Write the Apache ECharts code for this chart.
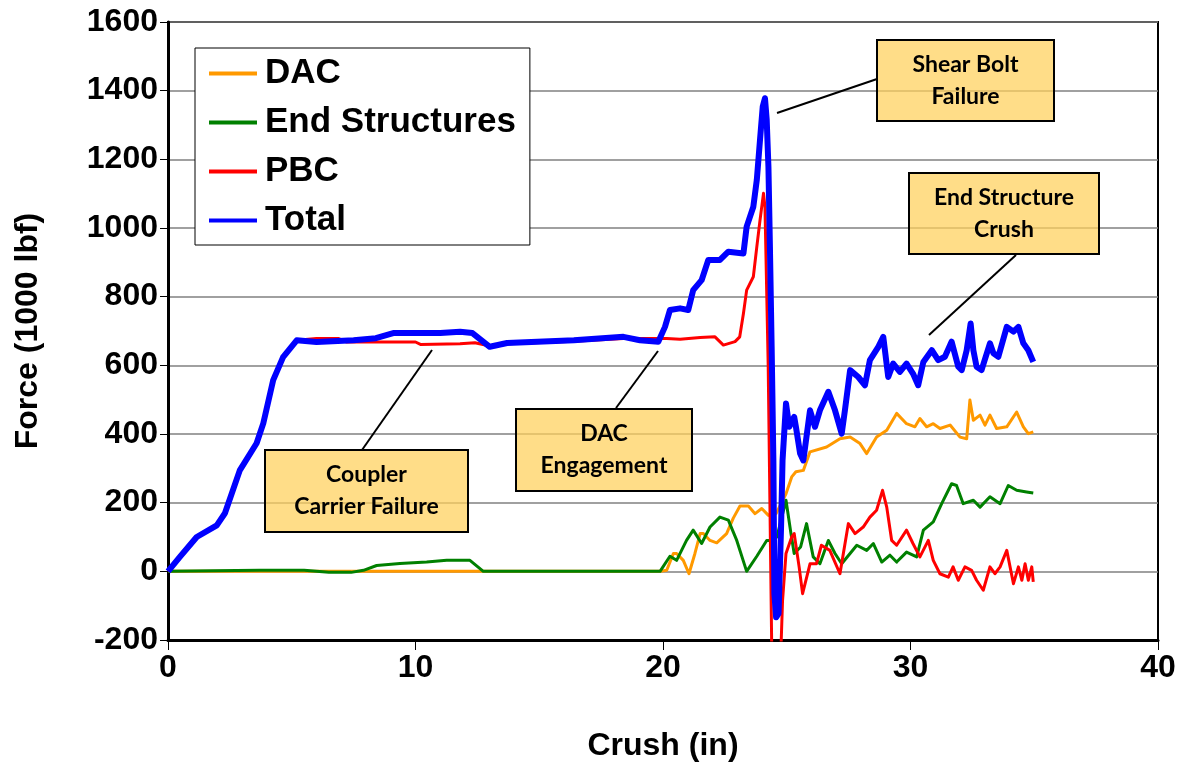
<!DOCTYPE html>
<html>
<head>
<meta charset="utf-8">
<script src="https://cdn.jsdelivr.net/npm/echarts@6/dist/echarts.min.js"></script>
<style>
  html, body { margin: 0; padding: 0; background: #fff; }
  #chart { width: 1183px; height: 767px; }
</style>
</head>
<body>
<div id="chart"></div>
<script>
// crush (in), force (1000 lbf)
const dacData = [
  [0, 0], [19.9, 0], [20.15, 3], [20.42, 52], [20.55, 52], [20.82, 32], [21.05, -7], [21.29, 52],
  [21.5, 110], [21.63, 110], [21.9, 90], [22.17, 83], [22.57, 110], [22.84, 155], [23.11, 190],
  [23.45, 190], [23.72, 168], [23.99, 183], [24.26, 163], [24.57, 168], [24.97, 226], [25.2, 275],
  [25.37, 290], [25.67, 294], [25.94, 348], [26.61, 362], [27.15, 386], [27.56, 391], [27.96, 372],
  [28.23, 343], [28.63, 391], [29.04, 411], [29.44, 460], [29.84, 430], [30.18, 421], [30.38, 445],
  [30.65, 421], [30.92, 430], [31.19, 416], [31.6, 426], [32.0, 391], [32.27, 386], [32.4, 499],
  [32.54, 440], [32.81, 455], [33.01, 426], [33.21, 455], [33.48, 416], [33.89, 421], [34.29, 464],
  [34.56, 421], [34.76, 401], [34.96, 406]
]

const endData = [
  [0, 0], [3.7, 3], [5.5, 3], [6.5, -3], [7.4, -3], [7.9, 3], [8.43, 17], [9.37, 23], [10.45, 27],
  [11.26, 32], [12.2, 32], [12.74, 0], [19.88, 0], [20.28, 44], [20.55, 32], [20.95, 90], [21.22, 120],
  [21.56, 81], [21.9, 129], [22.3, 158], [22.64, 149], [22.98, 90], [23.38, 0], [23.79, 44],
  [24.19, 90], [24.39, 90], [24.6, 100], [24.97, 207], [25.17, 110], [25.3, 52], [25.56, 71],
  [25.8, 139], [26.07, 42], [26.34, 22], [26.68, 90], [26.95, 52], [27.22, 22], [27.83, 76],
  [28.23, 61], [28.5, 81], [28.84, 27], [29.17, 47], [29.44, 27], [29.84, 56], [30.25, 42],
  [30.52, 120], [30.92, 144], [31.26, 197], [31.66, 255], [31.86, 250], [32.13, 197], [32.54, 207],
  [32.81, 187], [33.21, 217], [33.62, 197], [33.95, 250], [34.29, 236], [34.69, 231], [34.96, 228]
]

const pbcData = [
  [0, 0], [0.48, 42], [1.16, 100], [1.97, 134], [2.3, 169], [2.9, 294], [3.58, 373], [3.85, 431],
  [4.25, 557], [4.65, 624], [5.2, 673], [6.0, 678], [6.9, 678], [7.2, 668], [10.0, 668], [10.2, 661],
  [11.8, 663], [12.4, 666], [13.0, 656], [13.7, 663], [16.4, 670], [18.4, 678], [19.47, 678],
  [20.15, 678], [20.69, 676], [21.5, 681], [22.1, 683], [22.44, 659], [22.91, 669], [23.1, 683],
  [23.25, 751], [23.38, 819], [23.65, 858], [23.79, 945], [23.92, 1023], [24.06, 1101], [24.12, 1062],
  [24.25, 600], [24.4, -260], [24.75, -260], [24.83, -85], [24.97, 52], [25.2, 100], [25.3, 110],
  [25.5, 13], [25.64, -65], [25.94, 22], [26.2, 22], [26.4, 76], [26.74, 61], [27.15, -7],
  [27.49, 139], [27.76, 110], [28.09, 129], [28.36, 158], [28.63, 178], [28.87, 236], [29.04, 187],
  [29.24, 90], [29.44, 76], [29.84, 120], [30.1, 81], [30.38, 42], [30.72, 90], [30.92, 32],
  [31.19, -7], [31.53, -17], [31.72, 13], [31.93, -26], [32.2, 13], [32.47, 3], [32.67, -26],
  [32.94, -55], [33.21, 13], [33.41, -7], [33.62, 13], [33.89, 61], [34.16, -36], [34.36, 13],
  [34.5, -26], [34.63, 22], [34.76, -26], [34.9, 13], [34.96, -31]
]

const totalData = [
  [0, 0], [0.48, 42], [1.16, 100], [1.97, 134], [2.3, 169], [2.9, 294], [3.58, 373], [3.85, 431],
  [4.25, 557], [4.65, 624], [5.2, 673], [6.0, 668], [7.5, 673], [8.4, 679], [9.1, 694], [11.0, 694],
  [11.8, 698], [12.3, 694], [13.0, 654], [13.7, 665], [16.4, 673], [18.4, 683], [19.07, 673],
  [19.81, 669], [20.08, 712], [20.28, 761], [20.69, 766], [21.02, 761], [21.22, 819], [21.56, 848],
  [21.83, 907], [22.3, 907], [22.64, 931], [23.25, 926], [23.38, 1004], [23.65, 1062], [23.79, 1140],
  [23.92, 1257], [24.03, 1354], [24.12, 1378], [24.19, 1315], [24.26, 1179], [24.32, 945],
  [24.39, 654], [24.46, 323], [24.5, -65], [24.57, -134], [24.67, -123], [24.77, 129], [24.83, 323],
  [24.97, 489], [25.1, 421], [25.3, 450], [25.37, 421], [25.54, 343], [25.67, 323], [25.94, 469],
  [26.14, 421], [26.34, 469], [26.68, 523], [26.95, 469], [27.22, 401], [27.35, 469], [27.56, 586],
  [27.89, 566], [28.16, 542], [28.36, 615], [28.7, 654], [28.9, 683], [29.1, 566], [29.3, 605],
  [29.57, 581], [29.84, 605], [30.1, 576], [30.31, 542], [30.52, 610], [30.86, 644], [31.12, 615],
  [31.39, 625], [31.66, 669], [31.93, 596], [32.07, 586], [32.27, 644], [32.43, 722], [32.54, 644],
  [32.67, 596], [32.87, 586], [33.21, 664], [33.35, 635], [33.55, 625], [33.89, 712], [34.16, 698],
  [34.36, 712], [34.56, 664], [34.76, 644], [34.96, 610]
]

const seriesNames = ['DAC', 'End Structures', 'PBC', 'Total']
const seriesColors = ['#FF9900', '#008000', '#FF0000', '#0000FF']
const seriesWidths = [3, 3, 3, 6]
const seriesData = [dacData, endData, pbcData, totalData]

const chart = echarts.init(document.getElementById('chart'))

const font = 'Liberation Sans, Arial, sans-serif'
const boxFill = 'rgba(255, 208, 90, 0.72)'

// annotation box + text
const noteBox = (x, y, w, h, text) => ([
  {
    type: 'rect',
    shape: { x: x, y: y, width: w, height: h },
    style: { fill: boxFill, stroke: '#000', lineWidth: 2 },
    z: 100
  },
  {
    type: 'text',
    x: x + w / 2,
    y: y + h / 2,
    style: {
      text: text,
      fill: '#000',
      font: 'bold 23px Lato, sans-serif',
      align: 'center',
      verticalAlign: 'middle',
      lineHeight: 32
    },
    z: 101
  }
])

const leader = (x1, y1, x2, y2) => ({
  type: 'line',
  shape: { x1: x1, y1: y1, x2: x2, y2: y2 },
  style: { stroke: '#000', lineWidth: 2 },
  z: 100
})

const option = {
  backgroundColor: '#fff',
  animation: false,
  grid: {
    left: 168, right: 25, top: 22, bottom: 127,
    show: true, borderColor: '#000', borderWidth: 2, backgroundColor: 'transparent'
  },
  legend: {
    orient: 'vertical',
    left: 195,
    top: 48,
    padding: [8, 14, 7, 14],
    itemGap: 14,
    itemWidth: 48,
    itemHeight: 4,
    icon: 'rect',
    backgroundColor: '#fff',
    borderColor: '#000',
    borderWidth: 1,
    borderRadius: 0,
    textStyle: { fontFamily: font, fontWeight: 'bold', fontSize: 35, color: '#000', padding: [0, 0, 0, 3] },
    data: seriesNames
  },
  xAxis: {
    type: 'value',
    min: 0, max: 40, interval: 10,
    name: 'Crush (in)',
    nameLocation: 'middle',
    nameGap: 90,
    nameTextStyle: { fontFamily: font, fontWeight: 'bold', fontSize: 32, color: '#000' },
    axisLine: { onZero: false, lineStyle: { color: '#000', width: 3 } },
    axisTick: { show: true, inside: false, length: 10, lineStyle: { color: '#000', width: 1 } },
    axisLabel: { margin: 12, fontFamily: font, fontWeight: 'bold', fontSize: 32, color: '#000' },
    splitLine: { show: false }
  },
  yAxis: {
    type: 'value',
    min: -200, max: 1600, interval: 200,
    name: 'Force (1000 lbf)',
    nameLocation: 'middle',
    nameGap: 124,
    nameTextStyle: { fontFamily: font, fontWeight: 'bold', fontSize: 32, color: '#000' },
    axisLine: { show: true, lineStyle: { color: '#000', width: 3 } },
    axisTick: { show: true, inside: false, length: 8, lineStyle: { color: '#000', width: 1 } },
    axisLabel: {
      margin: 10, fontFamily: font, fontWeight: 'bold', fontSize: 32, color: '#000',
      formatter: (v) => String(v)
    },
    splitLine: { lineStyle: { color: '#808080', width: 1.5 } }
  },
  series: seriesNames.map((name, i) => ({
    name: name,
    type: 'line',
    data: seriesData[i],
    symbol: 'none',
    clip: true,
    color: seriesColors[i],
    lineStyle: { color: seriesColors[i], width: seriesWidths[i], join: 'round' },
    z: 2 + i
  })),
  graphic: [
    ...noteBox(265, 450, 203, 82, 'Coupler\nCarrier Failure'),
    leader(362, 450, 432, 350),
    ...noteBox(516, 409, 176, 82, 'DAC\nEngagement'),
    leader(616, 408, 658, 351),
    ...noteBox(877, 40, 177, 81, 'Shear Bolt\nFailure'),
    leader(777, 113, 877, 79),
    ...noteBox(909, 173, 190, 81, 'End Structure\nCrush'),
    leader(1016, 255, 929, 335)
  ]
}

chart.setOption(option)
</script>
</body>
</html>
